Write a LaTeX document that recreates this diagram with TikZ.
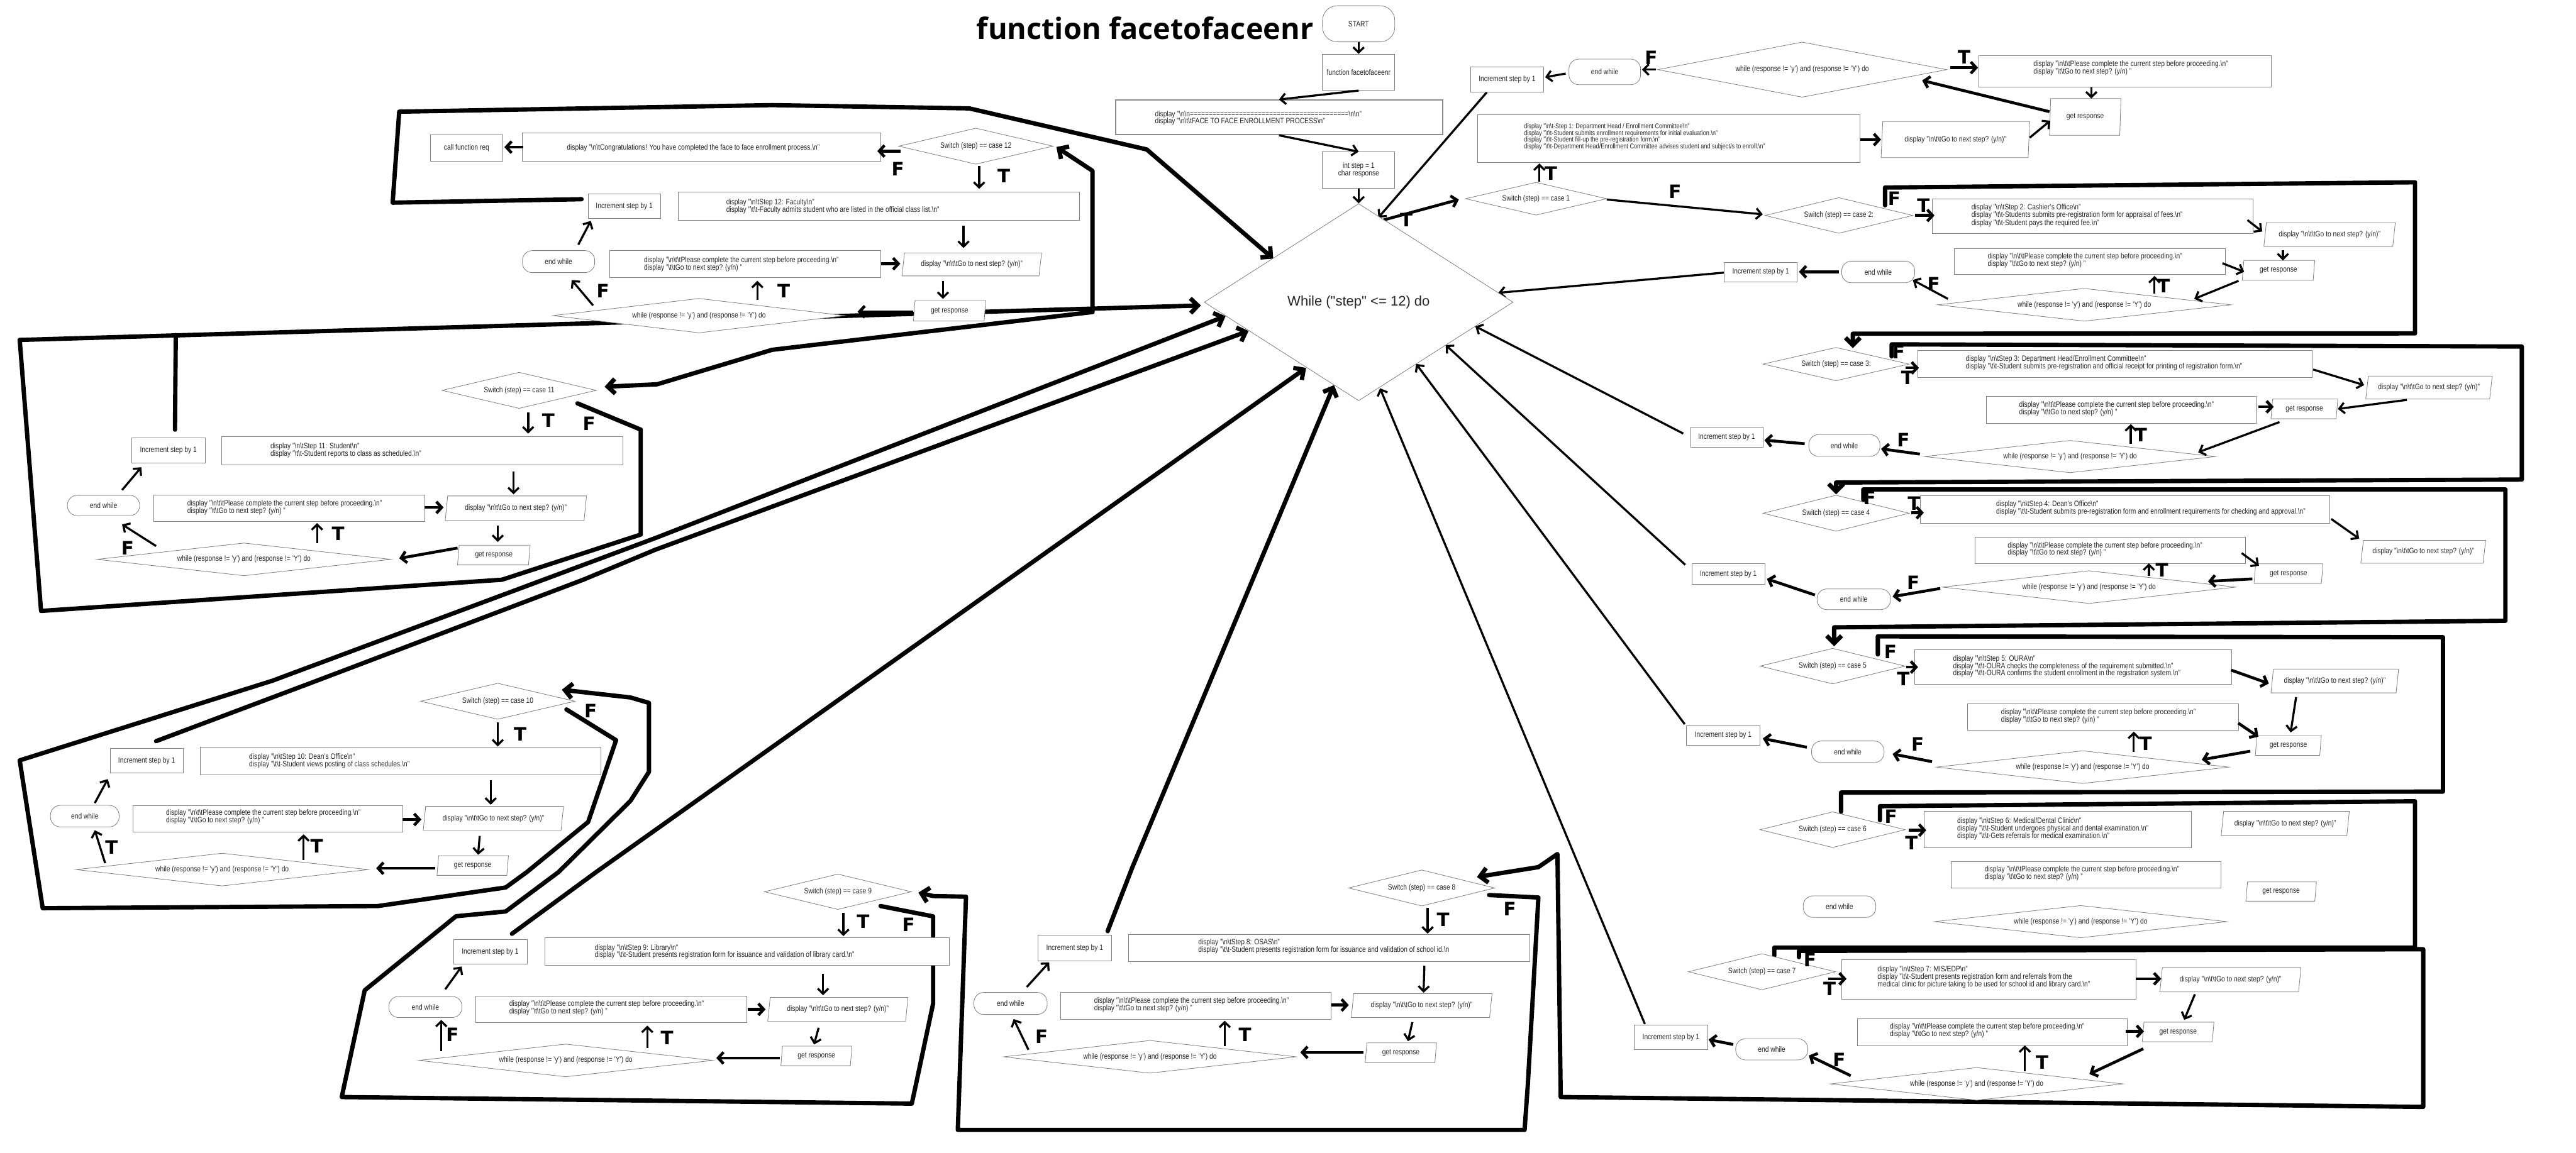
\documentclass[tikz,border=0pt]{standalone}
\usepackage{fontspec}
\setmainfont{Liberation Sans}[FakeStretch=0.83]
\newfontfamily\titlefont{Open Sans}
\newfontfamily\tffont{DejaVu Sans}
\newfontfamily\wfont{Liberation Sans}
\usetikzlibrary{shapes.geometric,arrows.meta}
\newcommand\Bsl{\textbackslash}
\newcommand\Fsz{\fontsize{13.5}{13}\selectfont}
\newcommand\plstxt{display "\Bsl n\Bsl t\Bsl tPlease complete the current step before proceeding.\Bsl n"\\display "\Bsl t\Bsl tGo to next step? (y/n) "}
\newcommand\gotxt{display "\Bsl n\Bsl t\Bsl tGo to next step? (y/n)"}
\newcommand\whtxt{while (response != 'y') and (response != 'Y') do}
\newcommand\Pgm[8][]{%
 \pgfmathsetmacro\pgmA{atan(((#6)-(#4))/(#7))}%
 \pgfmathsetmacro\pgmB{180-\pgmA}%
 \node[pgs,#1,trapezium left angle=\pgmA,trapezium right angle=\pgmB,minimum width={((#5)-(#3))*1mm},minimum height={((#6)-(#4))*1mm}] (#2) at ({((#3)+(#5))/2},{((#4)+(#6))/2}) {#8};}
\newcommand\Bxx[7]{\node[#1,minimum width={((#5)-(#3))*1mm},minimum height={((#6)-(#4))*1mm}] (#2) at ({((#3)+(#5))/2},{((#4)+(#6))/2}) {#7};}
\newcommand\Dmd[7]{\node[dia,shape aspect=#7,minimum width={(#4)*1mm},minimum height={(#5)*1mm}] (#1) at (#2,#3) {#6};}
\begin{document}
\begin{tikzpicture}[x=1mm,y=-1mm,
 bxs/.style={draw=black!50,line width=0.9pt,fill=white,inner sep=0pt,font=\Fsz,text=black!85,align=center},
 proc/.style={bxs,rectangle},
 term/.style={bxs,rectangle,rounded corners=6mm},
 pgs/.style={bxs,trapezium,trapezium stretches body},
 dia/.style={bxs,diamond},
 txt/.style={inner sep=0pt,align=left,anchor=west,font=\Fsz,text=black!85},
 ar/.style={line width=3.6pt,-{Straight Barb[length=3.2mm,width=6.5mm]}},
 tar/.style={line width=5pt,-{Straight Barb[length=3.2mm,width=7mm]}},
 thk/.style={line width=7.5pt,line join=round,line cap=round},
 thka/.style={thk,-{Straight Barb[length=4.5mm,width=9mm]}},
 lab/.style={font=\tffont\bfseries\fontsize{32}{32}\selectfont,inner sep=0pt},
]
\fill[white] (0,0) rectangle (1568,702);
\useasboundingbox (0,0) rectangle (1568,702);

% ---------------- long loop lines ----------------
\draw[thka] (354,121.3) -- (239,123.4) -- (243,68) -- (470,64) -- (590,66) -- (698,91) -- (775,157.5);
\draw[thka] (12,207) -- (731,186);
\draw[thk] (351.5,245.6) -- (390,261.6) -- (390,325.5) -- (305.5,353) -- (25,372) -- (12,207);
\draw[thka] (470,213) -- (665,190) -- (665,104) -- (643,89.5);
\draw[thk] (106.5,261.6) -- (107,204);
\draw[thka] (470,213) -- (400,234) -- (368,235.5);
\draw[thka] (344.8,432) -- (375,450.7) -- (358,500.5) -- (320.7,531) -- (307.8,540.4) -- (230,551.7) -- (26,553) -- (12,463) -- (165.8,414.5) -- (399,327.6) -- (746,192.5);
\draw[thka] (95,451.3) -- (192.8,414.5) -- (355,353) -- (399,334.7) -- (760,201.5);
\draw[thka] (536,551.7) -- (568,558) -- (568,611) -- (557.6,660) -- (555,672) -- (208,668) -- (222,603) -- (277.6,557.9) -- (307.8,555) -- (340,531) -- (383.8,487.6) -- (395,470) -- (395,428) -- (383.8,424.7) -- (342,420);
\draw[thka] (311.6,568.6) -- (362.6,531.2) -- (795,224);
\draw[thka] (674.2,567) -- (689.3,528) -- (812,234.5);
\draw[thka] (906.4,545) -- (936.4,546.5) -- (930,660) -- (928,688) -- (583,688) -- (588,546) -- (568,545.6) -- (559,543.5);
\draw[thka] (1095,582.8) -- (1095,579) -- (1475,578) -- (1475,674) -- (950,668) -- (948,520) -- (936.4,528) -- (899,534);
\draw[thk] (1144.3,499.4) -- (1144.3,490.9) -- (1470,487.9) -- (1470,577) -- (1080,577) -- (1080,582);
\draw[thk] (1143,398.5) -- (1143,387.5) -- (1487,388) -- (1487,482) -- (1120.6,482.6) -- (1120.6,494.3);
\draw[thka] (1134.2,304.6) -- (1134.2,298) -- (1525,298) -- (1525,378) -- (1116.4,382) -- (1116.4,393.5);
\draw[thka] (1151.4,217) -- (1151.4,209.7) -- (1535,211) -- (1535,292) -- (1117.6,293.8) -- (1117.6,301);
\draw[thka] (1147.4,125) -- (1147.4,114.2) -- (1470,111) -- (1470,203) -- (1127.8,203.2) -- (1127.8,212);

% thin lines from increment boxes to the while diamond
\draw[ar] (905,56.2) -- (839,132.5);
\draw[ar] (1049.5,166) -- (912,178.3);
\draw[ar] (1024.6,264) -- (898,198.7);
\draw[ar] (1025.8,343.9) -- (880,210.1);
\draw[ar] (1025.5,441) -- (862,221.6);
\draw[ar] (1001.2,623.5) -- (840,236.4);
\draw[tar] (842,134) -- (888,121.5);
\node[lab] at (856,134) {T};

% ---------------- title and main column ----------------
\node[font=\titlefont\bfseries\fontsize{51}{56}\selectfont,inner sep=0pt] (title) at (697,17) {function facetofaceenr};
\Bxx{term,rounded corners=9mm}{start}{805}{3.5}{849}{25.5}{START}
\Bxx{proc}{func}{805}{33}{849}{55}{function facetofaceenr}
\Pgm[draw=black!45,line width=2.2pt]{disp0}{679}{61}{878}{82}{3.5}{}
\node[txt] (d0t) at (703,71.9) {display "\Bsl n\Bsl n==========================================\Bsl n\Bsl n"\\display "\Bsl n\Bsl t\Bsl tFACE TO FACE ENROLLMENT PROCESS\Bsl n"};
\Bxx{proc}{init}{805}{92.5}{849}{114.5}{int step = 1\\char response}
\Dmd{wd}{827}{184}{188}{120}{\wfont\fontsize{24}{28}\selectfont While ("step" <= 12) do}{1.6}
\draw[ar] (start.south) -- (func.north);
\draw[ar] (func.south) -- (disp0.north);
\draw[ar] (disp0.south) -- (init.north);
\draw[ar] (init.south) -- (wd.north);

% ---------------- case 12 ----------------
\Dmd{sw12}{594}{89}{94}{22}{Switch (step) == case 12}{4}
\Pgm{cg12}{318}{81}{536}{98}{5.5}{}
\node[txt] at (345,90) {display "\Bsl n\Bsl tCongratulations! You have completed the face to face enrollment process.\Bsl n"};
\Bxx{proc}{cfr}{262}{82}{306}{98}{call function req}
\Pgm{st12}{413}{117}{657}{134}{6}{}
\node[txt] at (442,125.75) {display "\Bsl n\Bsl tStep 12: Faculty\Bsl n"\\display "\Bsl t\Bsl t-Faculty admits student who are listed in the official class list.\Bsl n"};
\Bxx{proc}{in12}{358}{118}{402}{133}{Increment step by 1}
\Pgm{gn12}{549}{154}{634}{168}{5}{\gotxt}
\Pgm{pl12}{371}{152.6}{536}{169}{5}{}
\node[txt] at (392,160.8) {\plstxt};
\Bxx{term}{ew12}{318}{152.6}{362}{166}{end while}
\Pgm{gr12}{556}{183}{600}{195.5}{3}{get response}
\Dmd{wc12}{425.5}{192.2}{178}{21}{\whtxt}{8}
\draw[tar] (548,92) -- (534,92);
\node[lab] at (546.5,103) {F};
\draw[tar] (318.5,89.6) -- (307,89.6);
\draw[ar] (596,101) -- (596,115);
\node[lab] at (611,107) {T};
\draw[ar] (586.5,137.5) -- (586.5,151);
\draw[tar] (536.5,160.6) -- (548,160.6);
\draw[ar] (574,171) -- (574,182);
\draw[tar] (556,189.8) -- (522,189.8);
\draw[ar] (461,182.5) -- (461,171);
\node[lab] at (477,177) {T};
\draw[ar] (361,186) -- (348,170.5);
\node[lab] at (367,177) {F};
\draw[ar] (352,149) -- (359.6,134.5);

% ---------------- case 11 ----------------
\Dmd{sw11}{316}{237.7}{94}{22}{Switch (step) == case 11}{4}
\Pgm{st11}{135}{266}{379}{283}{6}{}
\node[txt] at (164.6,274.3) {display "\Bsl n\Bsl tStep 11: Student\Bsl n"\\display "\Bsl t\Bsl t-Student reports to class as scheduled.\Bsl n"};
\Bxx{proc}{in11}{80}{266.5}{125}{282}{Increment step by 1}
\Pgm{gn11}{271}{302}{357}{317}{5}{\gotxt}
\Pgm{pl11}{93.6}{301.5}{258.5}{317.5}{5}{}
\node[txt] at (114,309) {\plstxt};
\Bxx{term}{ew11}{41}{301.6}{85}{314}{end while}
\Pgm{gr11}{278.5}{332}{322.7}{344}{3}{get response}
\Dmd{wc11}{148.5}{340.6}{179}{20}{\whtxt}{8}
\draw[ar] (321.5,251) -- (321.5,264);
\node[lab] at (333.8,256) {T};
\node[lab] at (358.6,258) {F};
\draw[ar] (312.6,287) -- (312.6,301);
\draw[tar] (258.5,309) -- (270,309);
\draw[ar] (303,320) -- (303,330);
\draw[tar] (278.5,333.7) -- (243,340);
\draw[ar] (193,330.7) -- (193,318.5);
\node[lab] at (205.8,325) {T};
\draw[ar] (95,332.5) -- (74.3,319.3);
\node[lab] at (77.7,333.7) {F};
\draw[ar] (74.3,298.4) -- (86,284.5);

% ---------------- case 10 ----------------
\Dmd{sw10}{303}{427}{94}{22}{Switch (step) == case 10}{4}
\Pgm{st10}{122}{455}{365.7}{471.6}{6}{}
\node[txt] at (151.6,463.3) {display "\Bsl n\Bsl tStep 10: Dean's Office\Bsl n"\\display "\Bsl t\Bsl t-Student views posting of class schedules.\Bsl n"};
\Bxx{proc}{in10}{67}{455.6}{111.5}{470.7}{Increment step by 1}
\Pgm{gn10}{257.6}{491}{343}{505.7}{5}{\gotxt}
\Pgm{pl10}{80.8}{490.4}{245}{506.6}{5}{}
\node[txt] at (101,497.5) {\plstxt};
\Bxx{term}{ew10}{30.7}{490.4}{72.5}{503.5}{end while}
\Pgm{gr10}{266}{521}{309.5}{533}{3}{get response}
\Dmd{wc10}{135.2}{529.5}{178}{20}{\whtxt}{8}
\draw[ar] (303,440) -- (303,454.5);
\node[lab] at (316.6,447) {T};
\node[lab] at (359.5,433) {F};
\draw[ar] (298.7,475) -- (298.7,490);
\draw[tar] (245,499) -- (256.5,499);
\draw[ar] (292,509) -- (291,520.5);
\draw[tar] (265,528.7) -- (229,528.7);
\draw[ar] (184.8,523.5) -- (184.8,508);
\node[lab] at (192.8,515) {T};
\draw[ar] (64,525.6) -- (57.7,505.5);
\node[lab] at (67.9,515.8) {T};
\draw[ar] (57.7,489) -- (65.6,474.4);

% ---------------- case 9 ----------------
\Dmd{sw9}{510}{543}{89.5}{21.6}{Switch (step) == case 9}{4}
\Pgm{st9}{331.6}{571}{578}{587.7}{6}{}
\node[txt] at (362,579.5) {display "\Bsl n\Bsl tStep 9: Library\Bsl n"\\display "\Bsl t\Bsl t-Student presents registration form for issuance and validation of library card.\Bsl n"};
\Bxx{proc}{in9}{276}{572}{320.8}{587}{Increment step by 1}
\Pgm{gn9}{467.3}{607.3}{552.7}{622}{5}{\gotxt}
\Pgm{pl9}{289.5}{606.7}{454.4}{622.7}{5}{}
\node[txt] at (310,613.9) {\plstxt};
\Bxx{term}{ew9}{236.7}{606.7}{281.2}{619.6}{end while}
\Pgm{gr9}{475.3}{637}{518.6}{649}{3}{get response}
\Dmd{wc9}{344.4}{645.7}{179}{20}{\whtxt}{8}
\draw[ar] (513.4,555.7) -- (513.4,570);
\node[lab] at (525.4,561) {T};
\node[lab] at (553,563) {F};
\draw[ar] (501,593) -- (501,606);
\draw[tar] (455,614.6) -- (466,614.6);
\draw[ar] (498.3,625.8) -- (495.5,636);
\draw[tar] (474.7,644.2) -- (436,644.2);
\draw[ar] (394,638) -- (394,624.5);
\node[lab] at (406,632) {T};
\draw[ar] (268.6,640) -- (268.6,621);
\node[lab] at (275.4,630) {F};
\draw[ar] (271,602.4) -- (281,588.5);

% ---------------- case 8 ----------------
\Dmd{sw8}{865.4}{540.7}{89}{22}{Switch (step) == case 8}{4}
\Pgm{st8}{686.8}{569}{931.2}{585.6}{6}{}
\node[txt] at (729.3,576.4) {display "\Bsl n\Bsl tStep 8: OSAS\Bsl n"\\display "\Bsl t\Bsl t-Student presents registration form for issuance and validation of school id.\Bsl n};
\Bxx{proc}{in8}{631.9}{569.5}{676.4}{585}{Increment step by 1}
\Pgm{gn8}{822.5}{605}{908.2}{619.6}{5}{\gotxt}
\Pgm{pl8}{645.4}{604.3}{810.3}{620.8}{5}{}
\node[txt] at (666,611.8) {\plstxt};
\Bxx{term}{ew8}{592.8}{604.3}{637.4}{617.7}{end while}
\Pgm{gr8}{831}{635}{874.4}{647}{3}{get response}
\Dmd{wc8}{700}{643.5}{178}{20}{\whtxt}{8}
\draw[ar] (869,552.6) -- (869,568.5);
\node[lab] at (878.4,560) {T};
\node[lab] at (919,553.6) {F};
\draw[ar] (867,588) -- (866.5,604.5);
\draw[tar] (810.3,612) -- (821,612);
\draw[ar] (859.7,622.4) -- (857,634);
\draw[tar] (830,640.8) -- (791.5,640.8);
\draw[ar] (745.5,637) -- (745.5,621.5);
\node[lab] at (757.8,630) {T};
\draw[ar] (626,639.2) -- (617,620.5);
\node[lab] at (634,631) {F};
\draw[ar] (625,601) -- (638.6,586);

% ---------------- case 1 ----------------
\Bxx{proc}{in1}{895.3}{40.8}{939.5}{56.2}{Increment step by 1}
\Bxx{term}{ew1}{955}{36}{998.6}{51.6}{end while}
\Dmd{wc1}{1097}{42.4}{176}{33.6}{\whtxt}{5}
\Pgm{pl1}{1204.5}{33.8}{1382.3}{52.8}{5}{}
\node[txt] at (1237.7,41.6) {\plstxt};
\Pgm{gr1}{1247.5}{60}{1291}{82.4}{4}{get response}
\Pgm{st1}{899.4}{69.8}{1132}{99.1}{4}{}
\node[txt,font=\fontsize{12}{11.7}\selectfont] at (927.6,83.3) {display "\Bsl n\Bsl t-Step 1: Department Head / Enrollment Committee\Bsl n"\\display "\Bsl t\Bsl t-Student submits enrollment requirements for initial evaluation.\Bsl n"\\display "\Bsl t\Bsl t-Student fill-up the pre-registration form.\Bsl n"\\display "\Bsl t\Bsl t-Department Head/Enrollment Committee advises student and subject/s to enroll.\Bsl n"};
\Pgm{gn1}{1145}{74}{1235.5}{96}{5}{\gotxt}
\Dmd{sw1}{935}{121}{86}{20}{Switch (step) == case 1}{4}
\draw[ar] (1008,42.4) -- (999.5,42.4);
\node[lab] at (1005,35) {F};
\draw[ar] (953,44.8) -- (940.5,47);
\draw[tar] (1187,41.2) -- (1204,41.2);
\node[lab] at (1195.6,34.6) {T};
\draw[ar] (1273,53.3) -- (1273,60);
\draw[tar] (1247.5,68) -- (1170,49);
\draw[tar] (1132.5,85) -- (1145,85);
\draw[ar] (1235.5,83.8) -- (1248,73.5);
\draw[ar] (937,110.5) -- (937,99.5);
\node[lab] at (944,105.6) {T};
\draw[ar] (978,121.5) -- (1073,130.5);
\node[lab] at (1019.6,116.7) {F};

% ---------------- case 2 ----------------
\Dmd{sw2}{1119.3}{131.2}{90}{21.8}{Switch (step) == case 2:}{4}
\Pgm{st2}{1176.3}{121}{1371.5}{142}{6}{}
\node[txt,font=\fontsize{13.5}{13.5}\selectfont] at (1200,131.2) {display "\Bsl n\Bsl tStep 2: Cashier's Office\Bsl n"\\display "\Bsl t\Bsl t-Students submits pre-registration form for appraisal of fees.\Bsl n"\\display "\Bsl t\Bsl t-Student pays the required fee.\Bsl n"};
\Pgm{gn2}{1378}{135.5}{1458}{150}{5}{\gotxt}
\Pgm{gr2}{1364.8}{158.6}{1409}{170.7}{3}{get response}
\Pgm{pl2}{1189.7}{151.4}{1354.6}{167}{5}{}
\node[txt] at (1209.8,158.6) {\plstxt};
\Dmd{wc2}{1268.7}{185.6}{178.6}{20}{\whtxt}{8}
\Bxx{term}{ew2}{1121}{159}{1165.5}{172.2}{end while}
\Bxx{proc}{in2}{1049.5}{159.6}{1094}{171.7}{Increment step by 1}
\node[lab] at (1153,120.8) {F};
\draw[tar] (1165.5,131.2) -- (1177.5,131.2);
\node[lab] at (1170.8,125) {T};
\draw[ar] (1368,134) -- (1377,141);
\draw[ar] (1389.6,152.5) -- (1389.6,158.6);
\draw[ar] (1352.8,160.3) -- (1366,165.5);
\draw[ar] (1362.6,171) -- (1335.6,182);
\draw[ar] (1311.4,178.7) -- (1311.4,168);
\node[lab] at (1317,174) {T};
\draw[ar] (1185.7,182) -- (1164.3,170.5);
\node[lab] at (1177,173) {F};
\draw[tar] (1119.4,165.5) -- (1095,165.5);

% ---------------- case 3 ----------------
\Dmd{sw3}{1117.6}{221.7}{89}{20.3}{Switch (step) == case 3:}{4}
\Pgm{st3}{1167.2}{213.4}{1407.3}{229.7}{6}{}
\node[txt] at (1196.5,220.9) {display "\Bsl n\Bsl tStep 3: Department Head/Enrollment Committee\Bsl n"\\display "\Bsl t\Bsl t-Student submits pre-registration and official receipt for printing of registration form.\Bsl n"};
\Pgm{gn3}{1440}{229}{1517}{243}{5}{\gotxt}
\Pgm{pl3}{1209}{241.4}{1373.4}{257.6}{5}{}
\node[txt] at (1229,248.9) {\plstxt};
\Pgm{gr3}{1382.3}{243}{1423}{255}{3}{get response}
\Dmd{wc3}{1260}{278}{177}{19.7}{\whtxt}{8}
\Bxx{term}{ew3}{1101}{264.6}{1144.3}{277.9}{end while}
\Bxx{proc}{in3}{1029}{260}{1073}{272.4}{Increment step by 1}
\draw[tar] (1160,224) -- (1168,224);
\node[lab] at (1161,230) {T};
\node[lab] at (1155.7,214.4) {F};
\draw[ar] (1408,225) -- (1439,234.5);
\draw[ar] (1465,243.5) -- (1423,249);
\draw[tar] (1374.6,247.7) -- (1384,247.7);
\draw[ar] (1387.5,257) -- (1338,275.4);
\draw[ar] (1297,270.2) -- (1297,258.2);
\node[lab] at (1303,265) {T};
\draw[tar] (1168.6,276.5) -- (1145,273.3);
\node[lab] at (1158.5,267.7) {F};
\draw[tar] (1098.5,270.2) -- (1074,268);

% ---------------- case 4 ----------------
\Dmd{sw4}{1117.6}{312.5}{89}{22}{Switch (step) == case 4}{4}
\Pgm{st4}{1169}{302}{1418}{318.5}{6}{}
\node[txt] at (1215,309.6) {display "\Bsl n\Bsl tStep 4: Dean's Office\Bsl n"\\display "\Bsl t\Bsl t-Student submits pre-registration form and enrollment requirements for checking and approval.\Bsl n"};
\Pgm{gn4}{1437}{329}{1513}{343}{5}{\gotxt}
\Pgm{pl4}{1202}{327}{1366.6}{343.3}{5}{}
\node[txt] at (1222,334.5) {\plstxt};
\Pgm{gr4}{1372}{343.3}{1414}{355.2}{3}{get response}
\Dmd{wc4}{1271.6}{357.5}{178.4}{20}{\whtxt}{8}
\Bxx{term}{ew4}{1106}{358.6}{1150.8}{371.2}{end while}
\Bxx{proc}{in4}{1029.8}{343.3}{1074.3}{355.6}{Increment step by 1}
\draw[tar] (1163.3,312.2) -- (1171,312.2);
\node[lab] at (1165,306.5) {T};
\node[lab] at (1138,303) {F};
\draw[ar] (1419,316) -- (1436,328);
\draw[ar] (1364.5,336.8) -- (1375,344.5);
\draw[tar] (1371,352.5) -- (1344,354);
\draw[ar] (1308,350.6) -- (1308,343);
\node[lab] at (1316,347) {T};
\draw[tar] (1181,358.3) -- (1152,363.3);
\node[lab] at (1164.6,354.6) {F};
\draw[tar] (1104.7,362.3) -- (1075.5,352.5);

% ---------------- case 5 ----------------
\Dmd{sw5}{1115.5}{405.6}{88.4}{21.7}{Switch (step) == case 5}{4}
\Pgm{st5}{1165.5}{395.7}{1358.2}{416.6}{6}{}
\node[txt,font=\fontsize{13.5}{12.6}\selectfont] at (1188.8,405.7) {display "\Bsl n\Bsl tStep 5: OURA\Bsl n"\\display "\Bsl t\Bsl t-OURA checks the completeness of the requirement submitted.\Bsl n"\\display "\Bsl t\Bsl t-OURA confirms the student enrollment in the registration system.\Bsl n"};
\Pgm{gn5}{1382.3}{407.4}{1460}{421.9}{5}{\gotxt}
\Pgm{gr5}{1372.8}{448}{1413}{460}{3}{get response}
\Pgm{pl5}{1197.7}{428.6}{1362.4}{444.7}{5}{}
\node[txt] at (1218,436) {\plstxt};
\Dmd{wc5}{1267.7}{467.1}{178}{20}{\whtxt}{8}
\Bxx{term}{ew5}{1102.7}{451.2}{1146.8}{464.4}{end while}
\Bxx{proc}{in5}{1026.4}{442}{1071.3}{453.6}{Increment step by 1}
\draw[tar] (1160.3,406.2) -- (1167.5,406.2);
\node[lab] at (1158.5,413.3) {T};
\node[lab] at (1150.7,396.8) {F};
\draw[tar] (1358,408) -- (1381,416.2);
\draw[ar] (1397.6,424.5) -- (1394.3,446);
\draw[tar] (1362.4,440.3) -- (1374.6,448.6);
\draw[tar] (1369.7,457.4) -- (1340.2,462.6);
\draw[ar] (1298.8,458) -- (1298.8,445.5);
\node[lab] at (1306,452.6) {T};
\draw[tar] (1176,463.8) -- (1152,459.1);
\node[lab] at (1167.2,453.2) {F};
\draw[tar] (1099.8,455) -- (1073,449.7);

% ---------------- case 6 ----------------
\Dmd{sw6}{1115.5}{505.2}{88.4}{21.8}{Switch (step) == case 6}{4}
\Pgm{st6}{1171}{494}{1334}{516}{6}{}
\node[txt] at (1191.3,504.5) {display "\Bsl n\Bsl tStep 6: Medical/Dental Clinic\Bsl n"\\display "\Bsl t\Bsl t-Student undergoes physical and dental examination.\Bsl n"\\display "\Bsl t\Bsl t-Gets referrals for medical examination.\Bsl n"};
\Pgm{gn6}{1352}{494}{1430}{508.8}{5}{\gotxt}
\Pgm{pl6}{1187.6}{524.6}{1351.8}{540.7}{5}{}
\node[txt] at (1208,531.8) {\plstxt};
\Pgm{gr6}{1367}{537}{1410}{548.7}{3}{get response}
\Bxx{term}{ew6}{1097.6}{545.5}{1141.8}{558.6}{end while}
\Dmd{wc6}{1266.5}{561.2}{178}{19.7}{\whtxt}{8}
\draw[tar] (1162,505.5) -- (1172.5,505.5);
\node[lab] at (1163.5,513.2) {T};
\node[lab] at (1151,497.3) {F};

% ---------------- case 7 ----------------
\Dmd{sw7}{1072.5}{591.7}{89.7}{22}{Switch (step) == case 7}{4}
\Pgm{st7}{1121}{584.4}{1300}{608.5}{6}{}
\node[txt] at (1142.8,595) {display "\Bsl n\Bsl tStep 7: MIS/EDP\Bsl n"\\display "\Bsl t\Bsl t-Student presents registration form and referrals from the\\medical clinic for picture taking to be used for school id and library card.\Bsl n"};
\Pgm{gn7}{1314.7}{589.2}{1400.6}{604}{5}{\gotxt}
\Pgm{pl7}{1130.5}{620.2}{1295}{636.6}{5}{}
\node[txt] at (1150.3,627.7) {\plstxt};
\Pgm{gr7}{1304}{622.4}{1347.6}{634.3}{3}{get response}
\Dmd{wc7}{1203.2}{660}{178}{20}{\whtxt}{8}
\Bxx{term}{ew7}{1056.5}{632.5}{1100.4}{645.4}{end while}
\Bxx{proc}{in7}{994.8}{624.2}{1039.3}{639.2}{Increment step by 1}
\draw[tar] (1112.7,596) -- (1124,596);
\node[lab] at (1113.6,602) {T};
\node[lab] at (1101.7,584.4) {F};
\draw[tar] (1300,596) -- (1315.5,596);
\draw[ar] (1336,605.4) -- (1329.5,621);
\draw[tar] (1293.7,628) -- (1305,628);
\draw[tar] (1304.6,638.6) -- (1271.8,654);
\draw[ar] (1232.5,652.4) -- (1232.5,636.5);
\node[lab] at (1243,647) {T};
\draw[tar] (1126.5,655) -- (1101,642.7);
\node[lab] at (1119.5,645.4) {F};
\draw[tar] (1055,636) -- (1040,633);
\end{tikzpicture}
\end{document}
